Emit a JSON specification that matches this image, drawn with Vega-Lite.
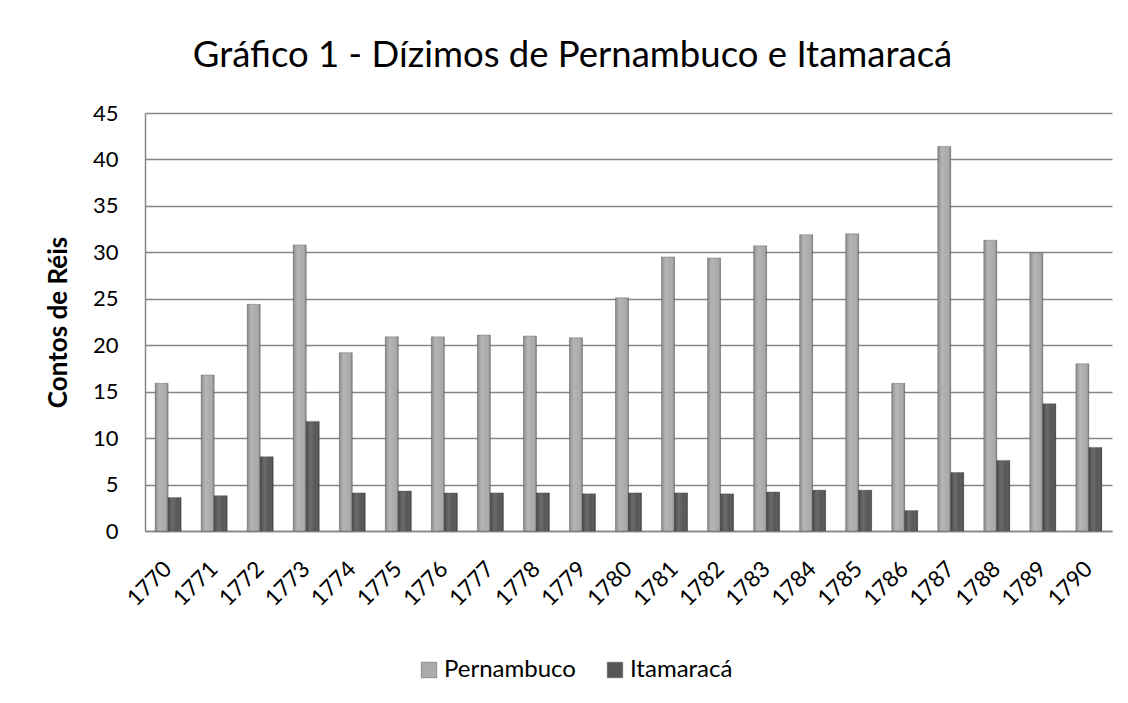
{
  "$schema": "https://vega.github.io/schema/vega-lite/v6.json",
  "width": 967,
  "height": 418,
  "autosize": {"type": "none"},
  "padding": {"left": 145, "top": 113, "right": 16, "bottom": 172},
  "background": "white",
  "title": {
    "text": "Gráfico 1 - Dízimos de Pernambuco e Itamaracá",
    "font": "Lato",
    "fontSize": 36.5,
    "fontWeight": "normal",
    "color": "#000000",
    "anchor": "middle",
    "dx": -56,
    "offset": 28
  },
  "data": {
    "values": [
      {"ano": "1770", "regiao": "Pernambuco", "valor": 15.9},
      {"ano": "1770", "regiao": "Itamaracá", "valor": 3.6},
      {"ano": "1771", "regiao": "Pernambuco", "valor": 16.8},
      {"ano": "1771", "regiao": "Itamaracá", "valor": 3.8},
      {"ano": "1772", "regiao": "Pernambuco", "valor": 24.4},
      {"ano": "1772", "regiao": "Itamaracá", "valor": 8.0},
      {"ano": "1773", "regiao": "Pernambuco", "valor": 30.8},
      {"ano": "1773", "regiao": "Itamaracá", "valor": 11.8},
      {"ano": "1774", "regiao": "Pernambuco", "valor": 19.2},
      {"ano": "1774", "regiao": "Itamaracá", "valor": 4.1},
      {"ano": "1775", "regiao": "Pernambuco", "valor": 20.9},
      {"ano": "1775", "regiao": "Itamaracá", "valor": 4.3},
      {"ano": "1776", "regiao": "Pernambuco", "valor": 20.9},
      {"ano": "1776", "regiao": "Itamaracá", "valor": 4.1},
      {"ano": "1777", "regiao": "Pernambuco", "valor": 21.1},
      {"ano": "1777", "regiao": "Itamaracá", "valor": 4.1},
      {"ano": "1778", "regiao": "Pernambuco", "valor": 21.0},
      {"ano": "1778", "regiao": "Itamaracá", "valor": 4.1},
      {"ano": "1779", "regiao": "Pernambuco", "valor": 20.8},
      {"ano": "1779", "regiao": "Itamaracá", "valor": 4.0},
      {"ano": "1780", "regiao": "Pernambuco", "valor": 25.1},
      {"ano": "1780", "regiao": "Itamaracá", "valor": 4.1},
      {"ano": "1781", "regiao": "Pernambuco", "valor": 29.5},
      {"ano": "1781", "regiao": "Itamaracá", "valor": 4.1},
      {"ano": "1782", "regiao": "Pernambuco", "valor": 29.4},
      {"ano": "1782", "regiao": "Itamaracá", "valor": 4.0},
      {"ano": "1783", "regiao": "Pernambuco", "valor": 30.7},
      {"ano": "1783", "regiao": "Itamaracá", "valor": 4.2},
      {"ano": "1784", "regiao": "Pernambuco", "valor": 31.9},
      {"ano": "1784", "regiao": "Itamaracá", "valor": 4.4},
      {"ano": "1785", "regiao": "Pernambuco", "valor": 32.0},
      {"ano": "1785", "regiao": "Itamaracá", "valor": 4.4},
      {"ano": "1786", "regiao": "Pernambuco", "valor": 15.9},
      {"ano": "1786", "regiao": "Itamaracá", "valor": 2.2},
      {"ano": "1787", "regiao": "Pernambuco", "valor": 41.4},
      {"ano": "1787", "regiao": "Itamaracá", "valor": 6.3},
      {"ano": "1788", "regiao": "Pernambuco", "valor": 31.3},
      {"ano": "1788", "regiao": "Itamaracá", "valor": 7.6},
      {"ano": "1789", "regiao": "Pernambuco", "valor": 29.9},
      {"ano": "1789", "regiao": "Itamaracá", "valor": 13.7},
      {"ano": "1790", "regiao": "Pernambuco", "valor": 18.0},
      {"ano": "1790", "regiao": "Itamaracá", "valor": 9.0}
    ]
  },
  "encoding": {
    "x": {
      "field": "ano",
      "type": "nominal",
      "sort": null,
      "scale": {"paddingInner": 0.435, "paddingOuter": 0.22},
      "axis": {
        "title": null,
        "labelAngle": -45,
        "labelAlign": "right",
        "labelBaseline": "middle",
        "labelPadding": 34,
        "labelFont": "Lato",
        "labelFontSize": 22.5,
        "labelColor": "#000000",
        "ticks": false,
        "domainColor": "#868686",
        "domainWidth": 1.5,
        "grid": false
      }
    },
    "xOffset": {
      "field": "regiao",
      "type": "nominal",
      "scale": {"domain": ["Pernambuco", "Itamaracá"], "paddingInner": 0}
    },
    "y": {
      "field": "valor",
      "type": "quantitative",
      "scale": {"domain": [0, 45], "nice": false},
      "axis": {
        "title": "Contos de Réis",
        "titleFont": "Lato",
        "titleFontSize": 26,
        "titleFontWeight": "bold",
        "titleColor": "#000000",
        "titleAngle": -90,
        "titleAlign": "center",
        "titleBaseline": "middle",
        "titleX": -87,
        "titleY": 209,
        "values": [0, 5, 10, 15, 20, 25, 30, 35, 40, 45],
        "labelFont": "Lato",
        "labelFontSize": 22,
        "labelColor": "#000000",
        "labelPadding": 27,
        "ticks": false,
        "domainColor": "#868686",
        "domainWidth": 1.5,
        "grid": true,
        "gridColor": "#868686",
        "gridWidth": 1.5
      }
    }
  },
  "layer": [
    {
      "mark": {"type": "bar", "stroke": "#3a3a3a", "strokeWidth": 0.6, "strokeOpacity": 0.5},
      "encoding": {
        "color": {
          "field": "regiao",
          "type": "nominal",
          "scale": {"domain": ["Pernambuco", "Itamaracá"], "range": ["#ababab", "#565656"]},
          "legend": {
            "title": null,
            "orient": "none",
            "direction": "horizontal",
            "legendX": 272,
            "legendY": 545,
            "symbolType": "square",
            "symbolSize": 240,
            "symbolStrokeColor": "#555555",
            "symbolStrokeWidth": 0.5,
            "labelFont": "Lato",
            "labelFontSize": 24,
            "labelColor": "#000000",
            "labelOffset": 3,
            "columnPadding": 27
          }
        }
      }
    },
    {
      "mark": {
        "type": "bar",
        "color": {
          "gradient": "linear",
          "x1": 0, "y1": 0, "x2": 1, "y2": 0,
          "stops": [
            {"offset": 0, "color": "rgba(0,0,0,0.22)"},
            {"offset": 0.35, "color": "rgba(255,255,255,0.12)"},
            {"offset": 0.7, "color": "rgba(255,255,255,0.0)"},
            {"offset": 1, "color": "rgba(0,0,0,0.28)"}
          ]
        }
      }
    }
  ],
  "config": {
    "view": {"stroke": null}
  }
}
